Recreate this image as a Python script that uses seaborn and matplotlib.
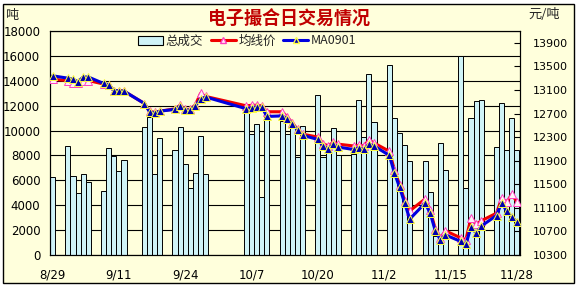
import matplotlib
matplotlib.use("Agg")
import matplotlib.pyplot as plt
import numpy as np
import pandas as pd
import seaborn as sns
from matplotlib.patches import Patch, Rectangle
from matplotlib.lines import Line2D

# ---------------- data ----------------
dates = [
    "2008-08-29",
    "2008-09-01", "2008-09-02", "2008-09-03", "2008-09-04", "2008-09-05",
    "2008-09-08", "2008-09-09", "2008-09-10", "2008-09-11", "2008-09-12",
    "2008-09-16", "2008-09-17", "2008-09-18", "2008-09-19",
    "2008-09-22", "2008-09-23", "2008-09-24", "2008-09-25", "2008-09-26", "2008-09-27", "2008-09-28",
    "2008-10-06", "2008-10-07", "2008-10-08", "2008-10-09", "2008-10-10",
    "2008-10-13", "2008-10-14", "2008-10-15", "2008-10-16", "2008-10-17",
    "2008-10-20", "2008-10-21", "2008-10-22", "2008-10-23", "2008-10-24",
    "2008-10-27", "2008-10-28", "2008-10-29", "2008-10-30", "2008-10-31",
    "2008-11-03", "2008-11-04", "2008-11-05", "2008-11-06", "2008-11-07",
    "2008-11-10", "2008-11-11", "2008-11-12", "2008-11-13", "2008-11-14",
    "2008-11-17", "2008-11-18", "2008-11-19", "2008-11-20", "2008-11-21",
    "2008-11-24", "2008-11-25", "2008-11-26", "2008-11-27", "2008-11-28",
]

volume = [
    6250, 8750, 6320, 4980, 6500, 5850,
    5120, 8580, 7950, 6750, 7620,
    10260, 11050, 6500, 9390,
    8430, 10300, 7300, 5380, 6580, 9600, 6500,
    11550, 9700, 10500, 4700, 11100,
    10800, 9700, 10400, 7900, 10400,
    12850, 7900, 8700, 10200, 8000,
    8100, 12440, 9450, 14550, 10700,
    15270, 11000, 9780, 8870, 7550,
    7530, 5040, 1500, 9020, 6860,
    16000, 5380, 10980, 12410, 12490,
    8700, 12200, 8460, 11040, 8400,
]

avg_price = [
    13280, 13260, 13220, 13210, 13260, 13260,
    13200, 13190, 13090, 13090, 13080,
    12870, 12740, 12720, 12740,
    12780, 12840, 12770, 12770, 12850, 13040, 12990,
    12830, 12840, 12840, 12830, 12730,
    12730, 12640, 12540, 12430, 12350,
    12300, 12190, 12150, 12210, 12180,
    12150, 12160, 12150, 12250, 12200,
    12060, 11740, 11490, 11220, 11050,
    11250, 11060, 10740, 10590, 10710,
    10590, 10560, 10930, 10820, 10880,
    11010, 11260, 11200, 11330, 11200,
]

ma0901 = [
    13340, 13300, 13280, 13240, 13320, 13320,
    13210, 13190, 13090, 13085, 13080,
    12870, 12730, 12710, 12740,
    12770, 12830, 12760, 12760, 12830, 12950, 12980,
    12780, 12800, 12810, 12810, 12650,
    12660, 12610, 12520, 12420, 12330,
    12260, 12150, 12100, 12180, 12130,
    12090, 12120, 12090, 12180, 12150,
    11990, 11690, 11450, 11180, 10910,
    11180, 11010, 10710, 10560, 10640,
    10530, 10480, 10780, 10670, 10790,
    10970, 11190, 11040, 10950, 10860,
]

tick_labels = ["8/29", "9/11", "9/24", "10/7", "10/20", "11/2", "11/15", "11/28"]
left_ticks = list(range(0, 18001, 2000))
right_ticks = list(range(10300, 13901, 400))

title = "电子撮合日交易情况"
series_names = ["总成交", "均线价", "MA0901"]

# ---------------- styling ----------------
CREAM = "#FFFFDC"
BAR = "#CFF3F7"
RED = "#F00000"
BLUE = "#0000E0"

sns.set_theme(style="white")
plt.rcParams["font.family"] = ["DejaVu Sans", "Noto Sans CJK SC"]

t0 = pd.Timestamp(dates[0])
day = (pd.to_datetime(dates) - t0).days
df = pd.DataFrame({"day": day, "vol": volume, "avg": avg_price, "ma": ma0901})
tick_pos = [(pd.Timestamp("2008/" + t) - t0).days for t in tick_labels]

fig = plt.figure(figsize=(5.78, 2.88), dpi=100)
fig.patch.set_facecolor("white")
frame = Rectangle((3 / 578, 5 / 288), 571 / 578, 279 / 288,
                  transform=fig.transFigure, facecolor=CREAM,
                  edgecolor="black", lw=1.0, zorder=-10)
fig.patches.append(frame)

ax = fig.add_axes([50 / 578, 33 / 288, 470 / 578, 224 / 288])
ax.set_facecolor(CREAM)

sns.barplot(data=df, x="day", y="vol", native_scale=True, width=1.0,
            color=BAR, saturation=1, edgecolor="black", linewidth=0.7,
            errorbar=None, ax=ax, zorder=2)

ax.set_xlim(-0.5, 91.6)
ax.set_ylim(0, 18000)
ax.set_yticks(left_ticks)
ax.set_yticklabels([str(v) for v in left_ticks])
ax.set_xticks(tick_pos)
ax.set_xticklabels(tick_labels)
ax.yaxis.grid(True, color="black", lw=0.8)
ax.xaxis.grid(False)
ax.set_axisbelow(True)
ax.tick_params(axis="y", length=0, pad=7, labelsize=8.5, colors="black")
ax.tick_params(axis="x", length=0, pad=10, labelsize=8.5, colors="black")
ax.set_xlabel("")
ax.set_ylabel("")
for s in ax.spines.values():
    s.set_color("black")
    s.set_linewidth(0.8)

ax2 = ax.twinx()
sns.lineplot(data=df, x="day", y="avg", ax=ax2, color=RED, lw=2.2,
             marker="^", markersize=5.5, markerfacecolor="#FFF0F8",
             markeredgecolor="#FF40C0", markeredgewidth=0.7,
             errorbar=None, legend=False, zorder=3)
sns.lineplot(data=df, x="day", y="ma", ax=ax2, color=BLUE, lw=2.2,
             marker="^", markersize=5.5, markerfacecolor="#0000B0",
             markeredgecolor="#FFFF40", markeredgewidth=0.7,
             errorbar=None, legend=False, zorder=4)
ax2.set_ylim(10300, 14100)
ax2.set_yticks(right_ticks)
ax2.set_yticklabels([str(v) for v in right_ticks])
ax2.tick_params(axis="y", direction="in", length=4, width=0.8, pad=9,
                labelsize=8, colors="black")
ax2.set_xlabel("")
ax2.set_ylabel("")
ax2.set_xlim(-0.5, 91.6)
for s in ax2.spines.values():
    s.set_color("black")
    s.set_linewidth(0.8)

# texts
fig.text(289 / 578, 1 - 19 / 288, title, ha="center", va="center",
         fontsize=13, fontweight="bold", color="#C00000",
         family=["Noto Sans CJK SC", "DejaVu Sans"])
fig.text(5 / 578, 1 - 15 / 288, "吨", ha="left", va="center", fontsize=9.5,
         family=["Noto Sans CJK SC", "DejaVu Sans"])
fig.text(528 / 578, 1 - 15 / 288, "元/吨", ha="left", va="center", fontsize=9.5,
         family=["Noto Sans CJK SC", "DejaVu Sans"])

handles = [
    Patch(facecolor=BAR, edgecolor="black", lw=0.8),
    Line2D([0], [0], color=RED, lw=2.2, marker="^", markersize=5,
           markerfacecolor="#FFF0F8", markeredgecolor="#FF40C0"),
    Line2D([0], [0], color=BLUE, lw=2.2, marker="^", markersize=5,
           markerfacecolor="#0000B0", markeredgecolor="#FFFF40"),
]
fig.legend(handles, series_names, loc="center left",
           bbox_to_anchor=(132 / 578, 1 - 41 / 288), ncol=3, frameon=False,
           borderpad=0, handlelength=2.0, handleheight=0.7, handletextpad=0.2,
           columnspacing=0.6, prop={"family": ["Noto Sans CJK SC", "DejaVu Sans"], "size": 9})

fig.savefig("out.png", dpi=100, facecolor="white")
